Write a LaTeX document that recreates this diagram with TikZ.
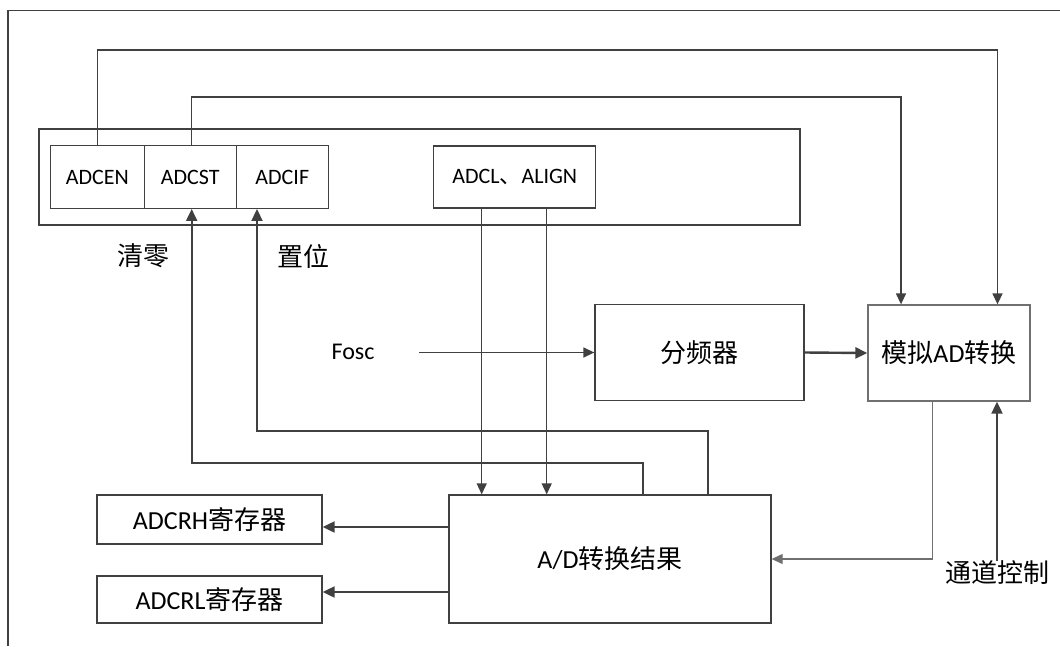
\documentclass[tikz,border=0pt]{standalone}
\usepackage{fontspec}
\setmainfont{Carlito}
\newfontfamily\cjk{Noto Sans CJK SC}
\usetikzlibrary{arrows.meta,calc}
\definecolor{lc}{RGB}{64,64,64}
\definecolor{lc2}{RGB}{112,112,112}
\begin{document}
\begin{tikzpicture}[x=1pt,y=-1pt,
  box/.style={draw=lc,line width=1.3pt,inner sep=0pt,align=center},
  wire/.style={draw=lc,line width=1.4pt},
  arr/.style={wire,-{Triangle[length=11pt,width=10pt]}},
  tarr/.style={draw=lc,line width=2pt,-{Triangle[length=12pt,width=11pt]}},
  small/.style={font=\fontsize{22}{24}\selectfont},
  big/.style={font=\fontsize{26}{28}\selectfont},
]
\useasboundingbox (0,0) rectangle (1060,646);
% outer frame (cropped)
\draw[lc,line width=1.3pt] (8,646) -- (8,10.7) -- (1060,10.7);

% register group
\node[box,minimum width=761pt,minimum height=96pt] (grp) at (419.5,177) {};
\node[box,small,minimum width=94pt,minimum height=62.6pt] (adcen) at (97.3,177) {ADCEN};
\node[box,small,minimum width=92pt,minimum height=62.6pt] (adcst) at (190.3,177) {ADCST};
\node[box,small,minimum width=92pt,minimum height=62.6pt] (adcif) at (282.3,177) {ADCIF};
\node[box,small,minimum width=162pt,minimum height=62pt] (adcl) at (514.7,177) {ADCL{\cjk 、}ALIGN};

% blocks
\node[box,big,minimum width=209pt,minimum height=96.4pt] (fenpin) at (699.5,352.5) {\cjk 分频器};
\node[box,big,minimum width=162pt,minimum height=96pt,draw=lc2] (moni) at (949,353) {{\cjk 模拟}AD{\cjk 转换}};
\node[box,big,minimum width=322pt,minimum height=128pt] (ad) at (610,559) {A/D{\cjk 转换结果}};
\node[box,big,minimum width=225pt,minimum height=49pt] (adcrh) at (209.5,519.5) {ADCRH{\cjk 寄存器}};
\node[box,big,minimum width=225pt,minimum height=47pt] (adcrl) at (209.5,599.5) {ADCRL{\cjk 寄存器}};

% labels
\node[big,inner sep=0pt] (ql) at (143,256) {\cjk 清零};
\node[big,inner sep=0pt] (zw) at (303,256) {\cjk 置位};
\node[font=\fontsize{24}{26}\selectfont,inner sep=0pt] (fosc) at (353,352) {Fosc};
\node[big,inner sep=0pt] (td) at (997,573) {\cjk 通道控制};

% helper coordinates
\coordinate (w1) at (0,50);
\coordinate (w2) at (0,97);
\coordinate (c1) at (0,463);
\coordinate (c2) at (0,431);
\coordinate (r1) at (0,527);
\coordinate (r2) at (0,592);
\coordinate (fs) at (419,352.5);
\coordinate (qa) at ([xshift=33pt]ad.north);
\coordinate (za) at ([xshift=98pt]ad.north);

% top wires
\draw[arr] (adcen.north) -- (adcen.north |- w1) -| ([xshift=48.5pt]moni.north);
\draw[arr] ([xshift=1.4pt]adcst.north) -- ([xshift=1.4pt]adcst.north |- w2) -| ([xshift=-48pt]moni.north);

% ADCL down wires
\draw[arr] ([xshift=-33pt]adcl.south) -- ([xshift=-33pt]adcl.south |- ad.north);
\draw[arr] ([xshift=32pt]adcl.south) -- ([xshift=32pt]adcl.south |- ad.north);

% feedback: clear / set
\draw[tarr] (qa) -- (qa |- c1) -| ([xshift=1.4pt]adcst.south);
\draw[tarr] (za) -- (za |- c2) -| ([xshift=-25.3pt]adcif.south);

% Fosc -> divider -> analog AD
\draw[arr] (fs) -- (fenpin.west);
\draw[tarr,line width=2.4pt] (fenpin.east) -- (moni.west);

% analog AD -> result
\draw[draw=lc2,line width=1.1pt,-{Triangle[length=11pt,width=10pt]}] ([xshift=-16.7pt]moni.south) |- (ad.east);

% channel control
\draw[tarr] (td.north) -- (td.north |- moni.south);

% result -> registers
\draw[tarr] (ad.west |- r1) -- (adcrh.east |- r1);
\draw[tarr] (ad.west |- r2) -- (adcrl.east |- r2);
\end{tikzpicture}
\end{document}
